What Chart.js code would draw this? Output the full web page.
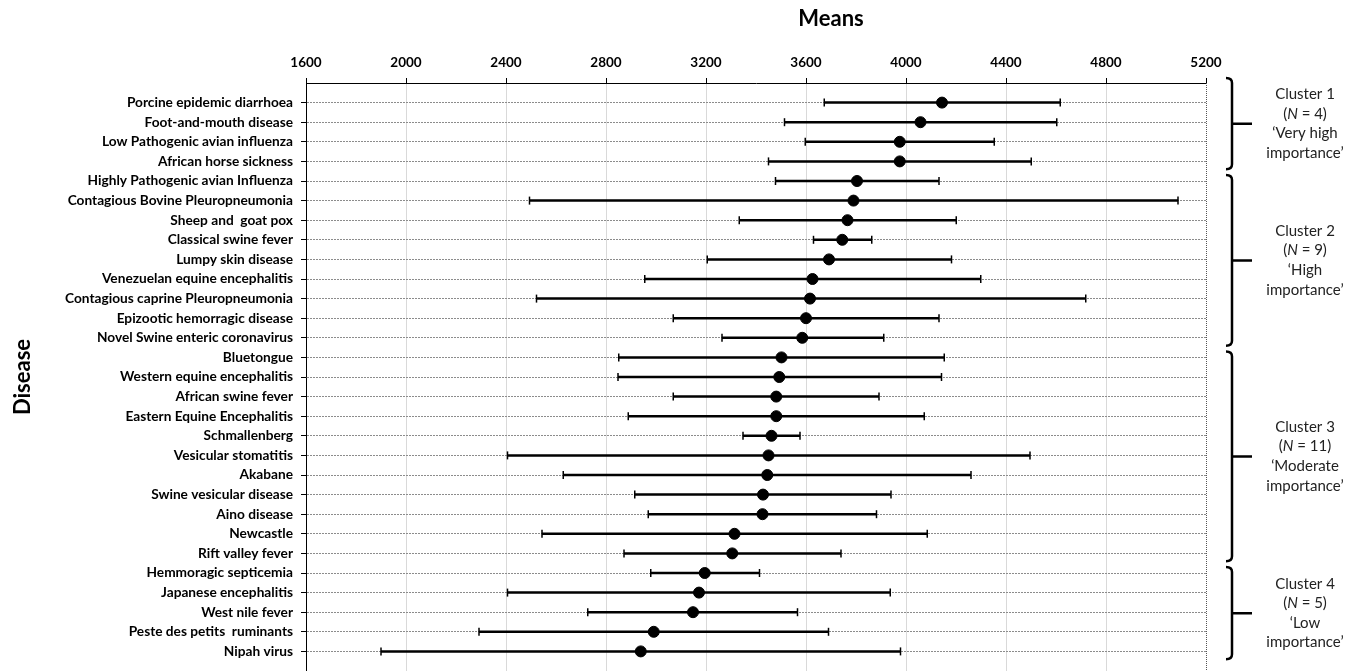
<!DOCTYPE html>
<html>
<head>
<meta charset="utf-8">
<script src="https://cdn.jsdelivr.net/npm/chart.js@4"></script>
<style>
  body { margin: 0; background: #fff; }
  #wrap { width: 1358px; height: 671px; }
</style>
</head>
<body>
<div id="wrap"><canvas id="chart" width="1358" height="671"></canvas></div>
<script>
const diseases = [
  'Porcine epidemic diarrhoea', 'Foot-and-mouth disease', 'Low Pathogenic avian influenza',
  'African horse sickness', 'Highly Pathogenic avian Influenza', 'Contagious Bovine Pleuropneumonia',
  'Sheep and  goat pox', 'Classical swine fever', 'Lumpy skin disease',
  'Venezuelan equine encephalitis', 'Contagious caprine Pleuropneumonia', 'Epizootic hemorragic disease',
  'Novel Swine enteric coronavirus', 'Bluetongue', 'Western equine encephalitis',
  'African swine fever', 'Eastern Equine Encephalitis', 'Schmallenberg',
  'Vesicular stomatitis', 'Akabane', 'Swine vesicular disease',
  'Aino disease', 'Newcastle', 'Rift valley fever',
  'Hemmoragic septicemia', 'Japanese encephalitis', 'West nile fever',
  'Peste des petits  ruminants', 'Nipah virus'
];
const means = [4144, 4058, 3975, 3975, 3804, 3790, 3766, 3745, 3692, 3626, 3616, 3600, 3585, 3502, 3493,
  3481, 3481, 3462, 3450, 3445, 3428, 3426, 3314, 3305, 3195, 3172, 3148, 2991, 2939];
const lows = [3673, 3514, 3597, 3450, 3478, 2494, 3333, 3630, 3205, 2955, 2522, 3069, 3264, 2851, 2848,
  3069, 2889, 3348, 2406, 2629, 2915, 2969, 2544, 2872, 2979, 2406, 2727, 2292, 1900];
const highs = [4617, 4603, 4353, 4501, 4132, 5088, 4201, 3863, 4182, 4299, 4719, 4132, 3911, 4153, 4142,
  3892, 4073, 3576, 4496, 4260, 3940, 3882, 4085, 3740, 3414, 3937, 3566, 3690, 3978];
const xTicks = [1600, 2000, 2400, 2800, 3200, 3600, 4000, 4400, 4800, 5200];

// clusters: first / last row (1-based) and label text
const clusterFirst = [1, 5, 14, 25];
const clusterLast = [4, 13, 24, 29];
const clusterNames = ['Cluster 1', 'Cluster 2', 'Cluster 3', 'Cluster 4'];
const clusterN = [4, 9, 11, 5];
const clusterLine3 = ['\u2018Very high', '\u2018High', '\u2018Moderate', '\u2018Low'];
const clusterLine4 = ['importance\u2019', 'importance\u2019', 'importance\u2019', 'importance\u2019'];

Chart.defaults.font.family = 'Lato, "Open Sans", sans-serif';
Chart.defaults.color = '#000';

let meanPoints = means.map((m, i) => ({ x: m, y: i + 1 }));
let barPoints = [];
for (let i = 0; i < diseases.length; i++) {
  barPoints.push({ x: lows[i], y: i + 1 });
  barPoints.push({ x: highs[i], y: i + 1 });
  barPoints.push({ x: null, y: null });
}

const clusterPlugin = {
  id: 'clusters',
  afterDraw(chart) {
    const ctx = chart.ctx;
    const area = chart.chartArea;
    const y = chart.scales.y;

    // dotted right frame
    ctx.save();
    ctx.strokeStyle = '#555';
    ctx.lineWidth = 1;
    ctx.setLineDash([1, 1]);
    ctx.beginPath();
    ctx.moveTo(area.right + 0.5, area.top);
    ctx.lineTo(area.right + 0.5, area.bottom);
    ctx.stroke();
    ctx.restore();

    // axis title on top, a bit right of centre like the original
    ctx.save();
    ctx.fillStyle = '#000';
    ctx.font = 'bold 22px Lato';
    ctx.textAlign = 'center';
    ctx.textBaseline = 'middle';
    ctx.fillText('Means', (area.left + area.right) / 2 + 75, 19);
    ctx.restore();

    const bx = area.right + 26;
    const tx = area.right + 99;
    const lh = (y.getPixelForValue(2) - y.getPixelForValue(1));
    for (let c = 0; c < clusterNames.length; c++) {
      let top = y.getPixelForValue(c === 0 ? -0.25 : clusterFirst[c] - 0.3);
      let bottom = y.getPixelForValue(clusterLast[c] + 0.4);
      let mid = (top + bottom) / 2;

      ctx.save();
      ctx.strokeStyle = '#000';
      ctx.lineWidth = 2.5;
      ctx.beginPath();
      ctx.moveTo(bx - 6, top);
      ctx.quadraticCurveTo(bx, top, bx, top + 5);
      ctx.lineTo(bx, bottom - 5);
      ctx.quadraticCurveTo(bx, bottom, bx - 6, bottom);
      ctx.moveTo(bx, mid);
      ctx.lineTo(bx + 20, mid);
      ctx.stroke();

      ctx.fillStyle = '#222';
      ctx.textAlign = 'center';
      ctx.textBaseline = 'middle';
      ctx.font = '15px Lato';
      ctx.fillText(clusterNames[c], tx, mid - 1.5 * lh);

      // (N = x) with italic N
      let a = '(', b = 'N', rest = ' = ' + clusterN[c] + ')';
      ctx.font = '15px Lato';
      let wa = ctx.measureText(a).width, wr = ctx.measureText(rest).width;
      ctx.font = 'italic 15px Lato';
      let wb = ctx.measureText(b).width;
      let x0 = tx - (wa + wb + wr) / 2;
      ctx.textAlign = 'left';
      ctx.font = '15px Lato';
      ctx.fillText(a, x0, mid - 0.5 * lh);
      ctx.font = 'italic 15px Lato';
      ctx.fillText(b, x0 + wa, mid - 0.5 * lh);
      ctx.font = '15px Lato';
      ctx.fillText(rest, x0 + wa + wb, mid - 0.5 * lh);

      ctx.textAlign = 'center';
      ctx.fillText(clusterLine3[c], tx, mid + 0.5 * lh);
      ctx.fillText(clusterLine4[c], tx, mid + 1.5 * lh);
      ctx.restore();
    }
  }
};

new Chart(document.getElementById('chart'), {
  type: 'scatter',
  data: {
    datasets: [
      {
        label: 'Mean',
        data: meanPoints,
        backgroundColor: '#000',
        borderColor: '#000',
        pointStyle: 'circle',
        pointRadius: 5.5,
        order: 0
      },
      {
        label: 'Range',
        data: barPoints,
        showLine: true,
        spanGaps: false,
        borderColor: '#000',
        borderWidth: 2.5,
        pointStyle: 'line',
        pointRotation: 90,
        pointRadius: 4,
        pointBorderWidth: 1.5,
        pointBorderColor: '#000',
        order: 1
      }
    ]
  },
  options: {
    responsive: false,
    animation: false,
    layout: { autoPadding: false, padding: { left: 0, right: 152, top: 0, bottom: 0 } },
    plugins: {
      legend: { display: false },
      tooltip: { enabled: false }
    },
    scales: {
      x: {
        type: 'linear',
        position: 'top',
        min: 1600,
        max: 5200,
        afterBuildTicks(scale) { scale.ticks = xTicks.map(v => ({ value: v })); },
        afterFit(scale) { scale.height = 83; },
        ticks: {
          font: { size: 13.5, weight: 'bold' },
          padding: 7,
          maxRotation: 0,
          callback: v => String(v)
        },
        grid: {
          color: ctx => (ctx.tick && ctx.tick.value === 5200) ? 'rgba(0,0,0,0)' : '#d9d9d9',
          tickColor: '#000',
          tickLength: 5,
          lineWidth: 1
        },
        border: { color: '#000', width: 1 }
      },
      y: {
        type: 'linear',
        reverse: true,
        min: 0,
        max: 30,
        afterBuildTicks(scale) { scale.ticks = diseases.map((d, i) => ({ value: i + 1 })); },
        afterFit(scale) {
          scale.width = 306;
          scale.paddingTop = 0;
          scale.paddingBottom = 0;
        },
        ticks: {
          autoSkip: false,
          font: { size: 13.7, weight: 'bold' },
          padding: 8,
          callback: v => diseases[v - 1] || ''
        },
        grid: {
          color: '#8c8c8c',
          tickColor: '#000',
          tickLength: 5,
          lineWidth: 1
        },
        border: { color: '#000', width: 1, dash: [2, 1] },
        title: {
          display: true,
          text: 'Disease',
          font: { size: 22, weight: 'bold' },
          padding: { top: 10, bottom: 0 }
        }
      }
    }
  },
  plugins: [clusterPlugin]
});
</script>
</body>
</html>
